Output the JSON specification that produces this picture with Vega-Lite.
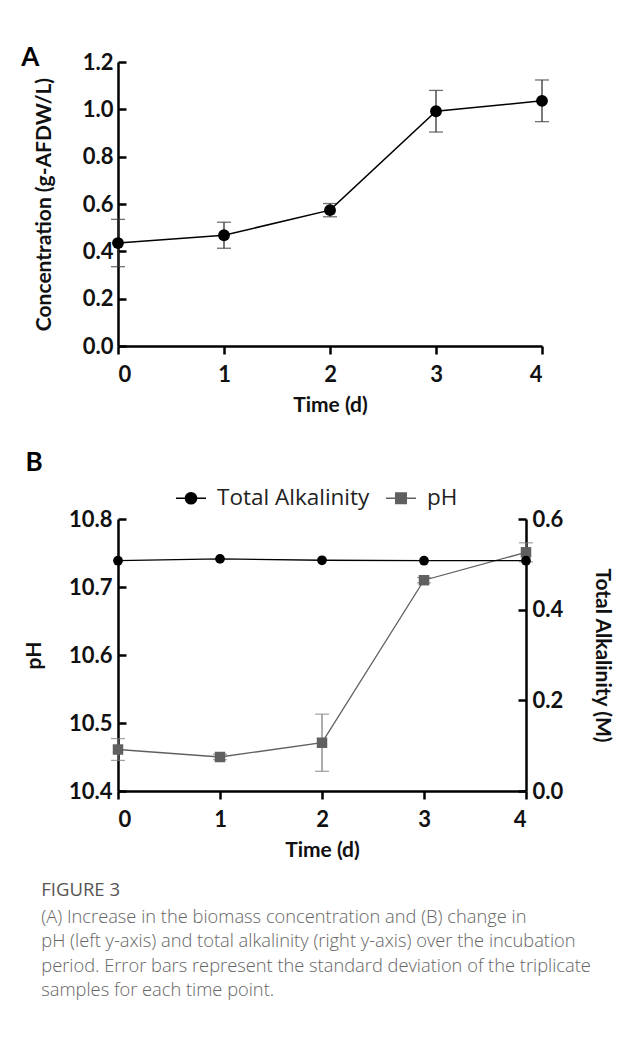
{
  "$schema": "https://vega.github.io/schema/vega-lite/v6.json",
  "background": "white",
  "padding": {"left": 21, "top": 45, "right": 4, "bottom": 40},
  "datasets": {
    "biomass": [
      {"day": 0, "conc": 0.435, "sd": 0.1},
      {"day": 1, "conc": 0.468, "sd": 0.055},
      {"day": 2, "conc": 0.574, "sd": 0.028},
      {"day": 3, "conc": 0.992, "sd": 0.088},
      {"day": 4, "conc": 1.036, "sd": 0.088}
    ],
    "water": [
      {"day": 0, "series": "pH", "value": 10.461, "sd": 0.016},
      {"day": 1, "series": "pH", "value": 10.45, "sd": 0.004},
      {"day": 2, "series": "pH", "value": 10.471, "sd": 0.042},
      {"day": 3, "series": "pH", "value": 10.71, "sd": 0.004},
      {"day": 4, "series": "pH", "value": 10.751, "sd": 0.014},
      {"day": 0, "series": "Total Alkalinity", "value": 0.508, "sd": 0},
      {"day": 1, "series": "Total Alkalinity", "value": 0.512, "sd": 0},
      {"day": 2, "series": "Total Alkalinity", "value": 0.509, "sd": 0},
      {"day": 3, "series": "Total Alkalinity", "value": 0.508, "sd": 0},
      {"day": 4, "series": "Total Alkalinity", "value": 0.508, "sd": 0}
    ]
  },
  "config": {
    "view": {"stroke": null},
    "font": "Lato",
    "axis": {
      "grid": false,
      "domainColor": "black",
      "domainWidth": 2.5,
      "tickColor": "black",
      "tickWidth": 2.5,
      "labelFont": "Lato",
      "labelFontSize": 22,
      "labelFontWeight": "bold",
      "labelColor": "#111",
      "titleFont": "Lato",
      "titleFontSize": 21,
      "titleFontWeight": "bold",
      "titleColor": "#111"
    }
  },
  "title": {
    "text": "FIGURE 3",
    "subtitle": [
      "(A) Increase in the biomass concentration and (B) change in",
      "pH (left y-axis) and total alkalinity (right y-axis) over the incubation",
      "period. Error bars represent the standard deviation of the triplicate",
      "samples for each time point."
    ],
    "orient": "bottom",
    "anchor": "start",
    "frame": "bounds",
    "font": "Open Sans",
    "fontSize": 18.5,
    "fontWeight": "normal",
    "color": "#555",
    "subtitleFont": "Open Sans",
    "subtitleFontSize": 18.3,
    "subtitleFontWeight": 300,
    "subtitleColor": "#666",
    "subtitleLineHeight": 24.5,
    "subtitlePadding": 9,
    "offset": 21,
    "dx": 20
  },
  "spacing": 35,
  "align": "none",
  "resolve": {"scale": {"shape": "independent", "fill": "independent", "stroke": "independent"}},
  "vconcat": [
    {
      "width": 424,
      "height": 284,
      "title": {"text": "A", "anchor": "start", "frame": "bounds", "font": "Lato", "fontSize": 26, "fontWeight": "bold", "color": "black", "dx": -12, "dy": 20, "offset": 0},
      "data": {"name": "biomass"},
      "encoding": {
        "x": {"field": "day", "type": "quantitative", "scale": {"domain": [0, 4], "nice": false, "zero": false},
          "axis": {"values": [0, 1, 2, 3, 4], "format": "d", "title": "Time (d)", "tickSize": 8, "labelPadding": 10, "titlePadding": 9}},
        "y": {"field": "conc", "type": "quantitative", "scale": {"domain": [0, 1.2], "nice": false},
          "axis": {"values": [0, 0.2, 0.4, 0.6, 0.8, 1.0, 1.2], "format": ".1f", "title": "Concentration (g-AFDW/L)", "tickSize": -8, "labelPadding": 13, "titlePadding": 28}}
      },
      "layer": [
        {"mark": {"type": "errorbar", "ticks": {"size": 14}, "thickness": 1.3, "color": "#333"}, "encoding": {"yError": {"field": "sd"}}},
        {"mark": {"type": "line", "color": "black", "strokeWidth": 1.5}},
        {"mark": {"type": "point", "shape": "circle", "filled": true, "opacity": 1, "size": 140, "color": "black"}}
      ]
    },
    {
      "width": 408,
      "height": 272,
      "title": {"text": "B", "anchor": "start", "frame": "bounds", "font": "Lato", "fontSize": 26, "fontWeight": "bold", "color": "black", "dx": 2, "offset": 6},
      "data": {"name": "water"},
      "encoding": {
        "x": {"field": "day", "type": "quantitative", "scale": {"domain": [0, 4], "nice": false, "zero": false},
          "axis": {"values": [0, 1, 2, 3, 4], "format": "d", "title": "Time (d)", "tickSize": 8, "labelPadding": 10, "titlePadding": 9}}
      },
      "layer": [
        {
          "transform": [{"filter": "datum.series === 'pH'"}],
          "encoding": {
            "y": {"field": "value", "type": "quantitative", "scale": {"domain": [10.4, 10.8], "nice": false, "zero": false},
              "axis": {"orient": "left", "values": [10.4, 10.5, 10.6, 10.7, 10.8], "format": ".1f", "title": "pH", "tickSize": -8, "labelPadding": 14, "titlePadding": 24}}
          },
          "layer": [
            {"mark": {"type": "errorbar", "ticks": {"size": 14}, "thickness": 1.2, "color": "#777"}, "encoding": {"yError": {"field": "sd"}}},
            {"mark": {"type": "line", "color": "#606060", "strokeWidth": 1.3}},
            {"mark": {"type": "point", "shape": "square", "filled": true, "opacity": 1, "size": 110, "color": "#606060"}}
          ]
        },
        {
          "transform": [{"filter": "datum.series === 'Total Alkalinity'"}],
          "encoding": {
            "y": {"field": "value", "type": "quantitative", "scale": {"domain": [0, 0.6], "nice": false},
              "axis": {"orient": "right", "values": [0, 0.2, 0.4, 0.6], "format": ".1f", "title": "Total Alkalinity (M)", "tickSize": -8, "labelPadding": 14, "titlePadding": 29}}
          },
          "layer": [
            {"mark": {"type": "line", "color": "black", "strokeWidth": 1.3}},
            {"mark": {"type": "point", "shape": "circle", "filled": true, "opacity": 1, "size": 95, "color": "black"}}
          ]
        },
        {
          "transform": [{"filter": "false"}],
          "mark": {"type": "point", "filled": true, "opacity": 1, "strokeWidth": 1.5},
          "encoding": {
            "shape": {"field": "series", "type": "nominal",
              "scale": {"domain": ["Total Alkalinity", "pH"], "range": ["M-1,0H1M0.37,0A0.37,0.37,0,1,1,-0.37,0A0.37,0.37,0,1,1,0.37,0Z", "M-1,0H1M-0.35,-0.35H0.35V0.35H-0.35Z"]},
              "legend": {"orient": "none", "legendX": 57, "legendY": -37, "direction": "horizontal", "title": null, "padding": 0, "labelFont": "Open Sans", "labelFontSize": 22.5, "labelFontWeight": "normal", "labelColor": "#222", "symbolSize": 900, "symbolStrokeWidth": 1.5, "columnPadding": 13, "labelOffset": 10}},
            "fill": {"field": "series", "type": "nominal", "scale": {"domain": ["Total Alkalinity", "pH"], "range": ["black", "#606060"]}},
            "stroke": {"field": "series", "type": "nominal", "scale": {"domain": ["Total Alkalinity", "pH"], "range": ["black", "#606060"]}}
          }
        }
      ],
      "resolve": {"scale": {"y": "independent"}}
    }
  ]
}
